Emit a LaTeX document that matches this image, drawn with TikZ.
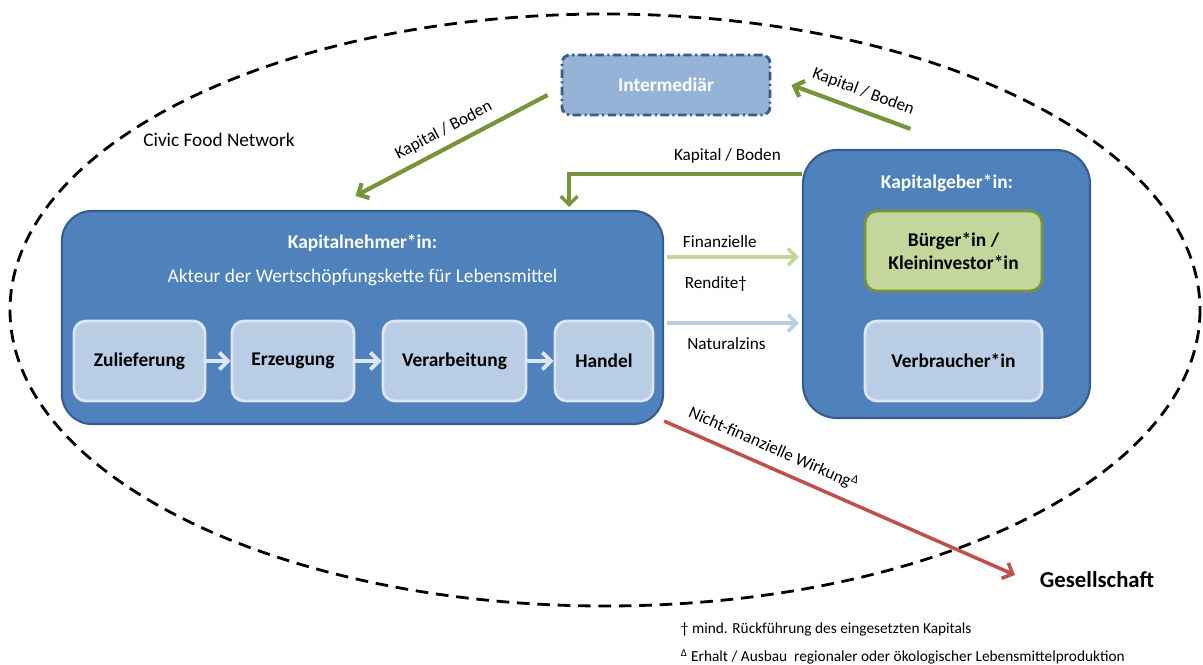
\documentclass[tikz,border=0pt]{standalone}
\usepackage{fontspec}
\setmainfont{Carlito}
\usetikzlibrary{arrows.meta}

\definecolor{boxblue}{HTML}{4F81BD}
\definecolor{boxline}{HTML}{385D8A}
\definecolor{stepfill}{HTML}{B9CDE5}
\definecolor{stepline}{HTML}{DCE6F2}
\definecolor{interfill}{HTML}{95B3D7}
\definecolor{greenfill}{HTML}{C3D69B}
\definecolor{greenline}{HTML}{77933C}
\definecolor{redline}{HTML}{C0504D}

\begin{document}
\begin{tikzpicture}[x=0.025cm, y=-0.025cm,
        >={Straight Barb[length=6pt,width=12pt]},
        bigbox/.style={draw=boxline, fill=boxblue, line width=1.5pt, inner sep=0pt},
        stepbox/.style={draw=stepline, fill=stepfill, line width=2pt, rounded corners=0.3cm,
            minimum height=2cm, inner sep=0pt, font=\fontsize{13.8}{16}\selectfont\bfseries},
        boxtitle/.style={text=white, font=\fontsize{13.8}{16}\selectfont\bfseries},
        flowlabel/.style={text=black, font=\fontsize{12.2}{14}\selectfont}]
    \useasboundingbox (0,0) rectangle (1203,664);

    \draw[line width=2pt, dash pattern=on 9pt off 5.5pt] (605,310) ellipse [x radius=595, y radius=296];
    \node (CFN) [font=\fontsize{13.7}{16}\selectfont] at (219,140) {Civic Food Network};

    \begin{scope}
        \node (KN) [bigbox, rounded corners=0.75cm, minimum width=15.025cm, minimum height=5.325cm] at (362.5,317.5) {};
        \node (KG) [bigbox, rounded corners=0.85cm, minimum width=7.175cm, minimum height=6.7cm] at (946.5,284) {};
        \node (I) [draw=boxline, fill=interfill, line width=2pt, rounded corners=0.2cm,
            dash pattern=on 6pt off 2.5pt on 1.5pt off 2.5pt,
            minimum width=5.2cm, minimum height=1.5cm, inner sep=0pt, boxtitle] at (666,85) {Intermediär};
    \end{scope}

    \node (KNt) [boxtitle] at (362.5,243) {Kapitalnehmer*in:};
    \node (KNs) [text=white, font=\fontsize{13.8}{16}\selectfont] at (362.5,277) {Akteur der Wertschöpfungskette für Lebensmittel};
    \node (KGt) [boxtitle] at (947,183) {Kapitalgeber*in:};

    \begin{scope}[every node/.style={stepbox}]
        \node (Z) [minimum width=3.275cm] at (139.5,361) {Zulieferung};
        \node (E) [minimum width=3.05cm] at (293,361) {Erzeugung};
        \node (V) [minimum width=3.575cm] at (454.5,361) {Verarbeitung};
        \node (H) [minimum width=2.45cm] at (604,361) {Handel};
        \node (B) [draw=greenline, fill=greenfill, minimum width=4.425cm, align=center] at (953.5,251) {Bürger*in /\\Kleininvestor*in};
        \node (VB) [minimum width=4.425cm] at (953.5,361) {Verbraucher*in};
    \end{scope}

    \node (G) [font=\fontsize{16.2}{19}\selectfont\bfseries] at (1097,580) {Gesellschaft};

    \begin{scope}[every node/.style={flowlabel}]
        \draw [->, stepline, line width=2.8pt] (Z) -- (E);
        \draw [->, stepline, line width=2.8pt] (E) -- (V);
        \draw [->, stepline, line width=2.8pt] (V) -- (H);

        \draw [->, greenline, line width=3pt] ([shift={(-13,10)}]I.west) -- node[sloped, above=2pt] {Kapital / Boden} ([shift={(-7,-14)}]KN.north);
        \draw [->, greenline, line width=3pt] ([shift={(-36,-20)}]KG.north) -- node[pos=0.45, sloped, above=3pt] {Kapital / Boden} ([shift={(20,0)}]I.east);
        \draw [->, greenline, line width=2.4pt] ([yshift=-0.625cm]KG.north west) -| node[pos=0.16, above=3pt] {Kapital / Boden} ([shift={(-95,-3)}]KN.north east);

        \draw [->, greenfill, line width=2.5pt] ([shift={(3,-60.5)}]KN.east) -- node[pos=0.40, above=2pt] {Finanzielle} node[pos=0.37, below=9pt] {Rendite†} ([shift={(-3,-27)}]KG.west);
        \draw [->, stepfill, line width=2.5pt] ([shift={(3,5.5)}]KN.east) -- node[pos=0.45, below=6pt] {Naturalzins} ([shift={(-3,39)}]KG.west);

        \draw [->, redline, line width=2.5pt] ([yshift=0.1cm]KN.south east) -- node[pos=0.29, sloped, above=3pt] {Nicht-finanzielle Wirkung\textsuperscript{Δ}} ([shift={(-20,-5)}]G.west);
    \end{scope}

    \node (N1) [anchor=west, font=\fontsize{10.9}{12}\selectfont] at (676,629) {† mind. Rückführung des eingesetzten Kapitals};
    \node (N2) [anchor=west, font=\fontsize{10.9}{12}\selectfont] at (676,657) {\textsuperscript{Δ} Erhalt / Ausbau\ \ regionaler oder ökologischer Lebensmittelproduktion};
\end{tikzpicture}
\end{document}
